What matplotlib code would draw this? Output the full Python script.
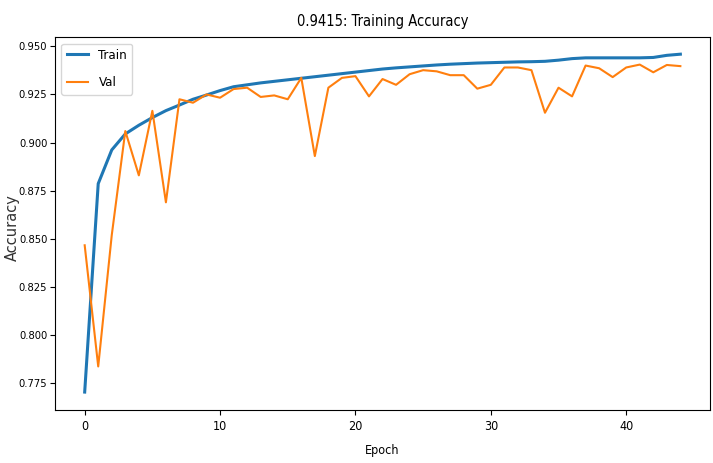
import matplotlib
matplotlib.use("Agg")
import matplotlib.pyplot as plt

epochs = list(range(45))

train_acc = [0.7705, 0.8787, 0.8962, 0.9045, 0.9090, 0.9130, 0.9166, 0.9195, 0.9225, 0.9247,
             0.9270, 0.9290, 0.9300, 0.9310, 0.9318, 0.9326, 0.9334, 0.9342, 0.9350, 0.9358,
             0.9366, 0.9374, 0.9382, 0.9388, 0.9393, 0.9398, 0.9403, 0.9407, 0.9410, 0.9413,
             0.9415, 0.9417, 0.9419, 0.9420, 0.9422, 0.9428, 0.9436, 0.9440, 0.9440, 0.9440,
             0.9440, 0.9440, 0.9442, 0.9453, 0.9459]

val_acc = [0.8467, 0.7838, 0.8520, 0.9060, 0.8830, 0.9165, 0.8690, 0.9225, 0.9207, 0.9250,
           0.9233, 0.9278, 0.9285, 0.9237, 0.9245, 0.9225, 0.9336, 0.8930, 0.9285, 0.9336,
           0.9345, 0.9240, 0.9330, 0.9300, 0.9355, 0.9376, 0.9370, 0.9350, 0.9350, 0.9280,
           0.9300, 0.9390, 0.9390, 0.9376, 0.9155, 0.9285, 0.9240, 0.9400, 0.9386, 0.9340,
           0.9390, 0.9405, 0.9365, 0.9403, 0.9397]

title = "0.9415: Training Accuracy"
xticks = [0, 10, 20, 30, 40]
yticks = [0.775, 0.800, 0.825, 0.850, 0.875, 0.900, 0.925, 0.950]

plt.rcParams["font.stretch"] = "condensed"

fig = plt.figure(figsize=(7.13, 4.63), dpi=100)
ax = fig.add_axes([0.077, 0.1145, 0.919, 0.8055])

ax.plot(epochs, train_acc, color="tab:blue", linewidth=2.2, label="Train")
ax.plot(epochs, val_acc, color="tab:orange", linewidth=1.5, label="Val")

ax.set_ylim(0.7612, 0.9548)
ax.set_xticks(xticks)
ax.set_yticks(yticks)
ax.set_yticklabels([f"{t:.3f}" for t in yticks], fontsize=8)
ax.set_xticklabels([str(t) for t in xticks], fontsize=9)
ax.tick_params(axis="y", pad=2)

ax.set_title(title, fontsize=10.5, pad=8)
ax.set_xlabel("Epoch", fontsize=9, labelpad=8)
ax.set_ylabel("Accuracy", fontsize=10.5, fontstretch="normal", color="#333333")
ax.yaxis.set_label_coords(-0.053, 0.49)

ax.legend(loc="upper left", fontsize=9.5, labelspacing=1.1, handlelength=1.6)

fig.savefig("out.png", dpi=100)
